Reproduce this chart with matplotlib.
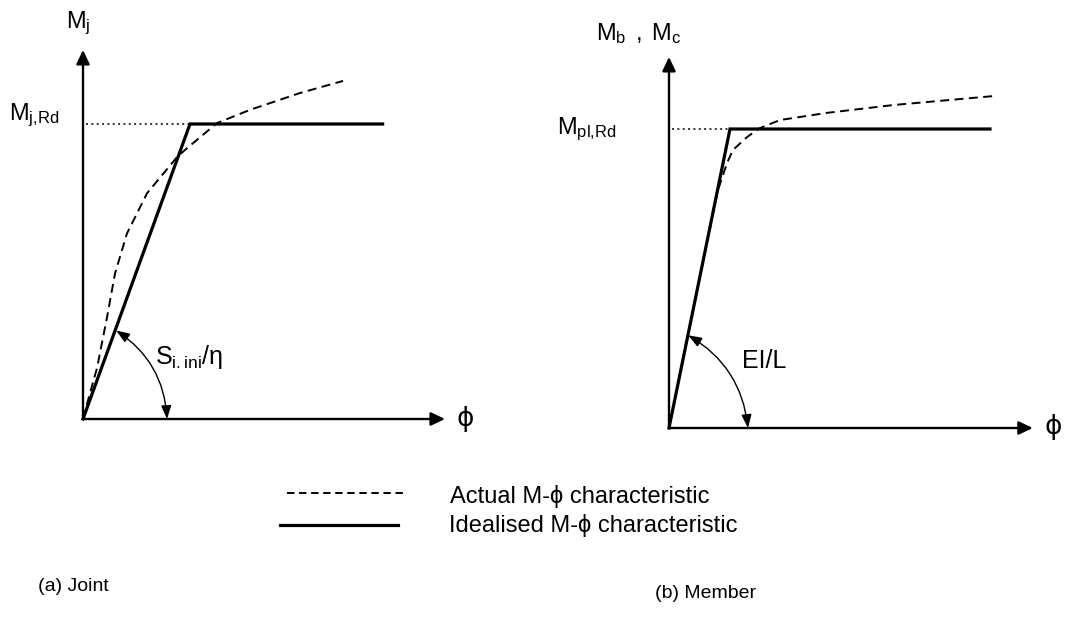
import matplotlib
matplotlib.use("Agg")
import matplotlib.pyplot as plt
from matplotlib.patches import FancyArrowPatch

# ---------------- data (schematic units: M / M_Rd , phi in common units) -------------
joint_phi_ideal = [0.0, 1.0, 2.80]
joint_M_ideal = [0.0, 1.0, 1.0]
joint_phi_actual = [0.0, 0.019, 0.131, 0.224, 0.299, 0.411, 0.598, 0.879, 0.972,
                    1.252, 1.561, 2.028, 2.430]
joint_M_actual = [0.0, 0.027, 0.173, 0.344, 0.493, 0.629, 0.765, 0.888, 0.918,
                  1.003, 1.048, 1.105, 1.146]

member_phi_ideal = [0.0, 0.57, 3.00]
member_M_ideal = [0.0, 1.0, 1.0]
member_phi_actual = [0.0, 0.40, 0.458, 0.542, 0.598, 0.729, 0.850, 1.037, 1.477,
                     2.093, 3.028]
member_M_actual = [0.0, 0.70, 0.796, 0.886, 0.930, 0.973, 1.003, 1.030, 1.054,
                   1.080, 1.110]

joint_labels = [r"$\mathrm{M_{j}}$", r"$\mathrm{M_{j{,}Rd}}$", r"$\mathrm{S_{i.ini}/\eta}$"]
member_labels = [r"$\mathrm{M_{b}\ \,{,}\ \,M_{c}}$", r"$\mathrm{M_{pl{,}Rd}}$", "EI/L"]
phi_label = "\u03d5"
legend_labels = ["Actual M-\u03d5 characteristic", "Idealised M-\u03d5 characteristic"]
captions = ["(a) Joint", "(b) Member"]

# ---------------- style -------------
plt.rcParams['font.family'] = ['Liberation Sans', 'DejaVu Sans']
plt.rcParams['mathtext.fontset'] = 'custom'
plt.rcParams['mathtext.rm'] = 'Liberation Sans'
plt.rcParams['mathtext.it'] = 'Liberation Sans'
plt.rcParams['mathtext.bf'] = 'Liberation Sans:bold'

W, H = 1067, 625
fig = plt.figure(figsize=(W / 100, H / 100), dpi=100)
fig.patch.set_facecolor('white')

ov = fig.add_axes([0, 0, 1, 1])
ov.set_xlim(0, W)
ov.set_ylim(H, 0)
ov.set_axis_off()

AX_LW = 1.7
IDEAL_LW = 2.3
ACT_LW = 1.4
DASH = (0, (4.6, 2.8))


def panel(ox, oy, sx, sy, xlim=(-0.6, 3.9), ylim=(-0.3, 1.4)):
    left = (ox + xlim[0] * sx) / W
    width = (xlim[1] - xlim[0]) * sx / W
    bottom = (H - oy + ylim[0] * sy) / H
    height = (ylim[1] - ylim[0]) * sy / H
    ax = fig.add_axes([left, bottom, width, height])
    ax.set_xlim(xlim)
    ax.set_ylim(ylim)
    ax.set_axis_off()
    return ax


def arrow(ax, p0, p1, style, lw, rad=0.0, ms=20):
    a = FancyArrowPatch(p0, p1, arrowstyle=style, lw=lw, color='black',
                        mutation_scale=ms, shrinkA=0, shrinkB=0,
                        connectionstyle="arc3,rad=%g" % rad, clip_on=False)
    ax.add_patch(a)


def draw_panel(ax, phi_i, M_i, phi_a, M_a, xtip, ytip, arcA, arcB):
    arrow(ax, (0, 0), (xtip, 0), '-|>,head_length=0.42,head_width=0.2', AX_LW)
    arrow(ax, (0, 0), (0, ytip), '-|>,head_length=0.42,head_width=0.2', AX_LW)
    ax.plot([0.03, phi_i[1]], [M_i[1], M_i[1]], color='black', lw=1.1,
            linestyle=(0, (1.3, 2.2)), clip_on=False)
    ax.plot(phi_a, M_a, color='black', lw=ACT_LW, linestyle=DASH, clip_on=False)
    ax.plot(phi_i, M_i, color='black', lw=IDEAL_LW, solid_joinstyle='miter',
            clip_on=False)
    arrow(ax, arcA, arcB, '<|-|>,head_length=0.45,head_width=0.17', 1.0, rad=-0.25, ms=18)


axL = panel(83, 419, 107, 295)
draw_panel(axL, joint_phi_ideal, joint_M_ideal, joint_phi_actual, joint_M_actual,
           3.383, 1.251, (0.31, 0.30), (0.785, 0.0))

axR = panel(669, 428, 107, 299)
draw_panel(axR, member_phi_ideal, member_M_ideal, member_phi_actual, member_M_actual,
           3.40, 1.241, (0.18, 0.31), (0.738, 0.0))

FS = 17
SUBFAM = ['Liberation Sans', 'DejaVu Sans']
# joint labels
ov.text(66, 28, joint_labels[0], fontsize=FS, ha='left', va='baseline')
ov.text(9, 120, joint_labels[1], fontsize=FS, ha='left', va='baseline')
ov.text(155, 364, joint_labels[2], fontsize=18, ha='left', va='baseline')
ov.text(465, 419, phi_label, fontsize=19, ha='center', va='center',
        family=['DejaVu Sans'])
# member labels
ov.text(596, 40, member_labels[0], fontsize=FS, ha='left', va='baseline')
ov.text(616, 134, member_labels[1], fontsize=FS, ha='right', va='baseline')
ov.text(742, 368, member_labels[2], fontsize=18, ha='left', va='baseline')
ov.text(1053, 427, phi_label, fontsize=19, ha='center', va='center',
        family=['DejaVu Sans'])

# legend
ov.plot([287, 403], [493, 493], color='black', lw=1.4, linestyle=(0, (3.8, 2.4)))
ov.plot([280, 398], [525, 525], color='black', lw=2.3)
ov.text(450, 503, legend_labels[0], fontsize=FS, ha='left', va='baseline', family=SUBFAM)
ov.text(449, 532, legend_labels[1], fontsize=FS, ha='left', va='baseline', family=SUBFAM)

# captions
ov.text(38, 591, captions[0], fontsize=14, ha='left', va='baseline')
ov.text(655, 598, captions[1], fontsize=14, ha='left', va='baseline')

fig.savefig("out.png", dpi=100, facecolor='white')
